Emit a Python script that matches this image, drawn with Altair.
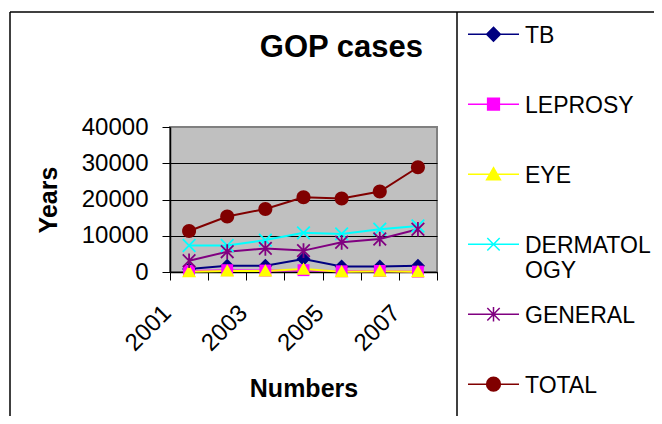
import altair as alt
import pandas as pd

# ---- data ----
years = ["2001", "2002", "2003", "2004", "2005", "2006", "2007"]
series_names = ["TB", "LEPROSY", "EYE", "DERMATOLOGY", "GENERAL", "TOTAL"]
tb = [800, 1700, 1700, 3600, 1500, 1500, 1700]
leprosy = [300, 500, 400, 500, 200, 300, 100]
eye = [100, 300, 300, 800, 100, 200, 100]
dermatology = [7300, 7300, 8800, 10800, 10500, 11800, 12700]
general = [3100, 5600, 6500, 5900, 8200, 9100, 11800]
total = [11300, 15300, 17400, 20600, 20300, 22200, 28900]
y_ticks = [0, 10000, 20000, 30000, 40000]
shown_year_labels = ["2001", "2003", "2005", "2007"]

colors = ["#000080", "#FF00FF", "#FFFF00", "#00FFFF", "#800080", "#800000"]
marker_kinds = ["diamond", "square", "triangle", "x", "star", "circle"]
marker_filled = [True, True, True, False, False, True]

values = [tb, leprosy, eye, dermatology, general, total]
rows = []
for name, col, vals in zip(series_names, colors, values):
    for yr, v in zip(years, vals):
        rows.append({"year": yr, "series": name, "hex": col, "value": v})
df = pd.DataFrame(rows)

FONT = "Liberation Sans"

# ---- marker shapes (unit coordinates) ----
def fmt(v):
    return f"{v:.3f}"

def outline(kind, s=1.0, dy=0.0):
    def p(x, y):
        return f"{fmt(x * s)},{fmt(y * s + dy)}"
    if kind == "diamond":
        return f"M{p(0,-1)}L{p(1,0)}L{p(0,1)}L{p(-1,0)}Z"
    if kind == "square":
        return f"M{p(-0.85,-0.85)}L{p(0.85,-0.85)}L{p(0.85,0.85)}L{p(-0.85,0.85)}Z"
    if kind == "triangle":
        return f"M{p(0,-0.95)}L{p(1,0.8)}L{p(-1,0.8)}Z"
    if kind == "x":
        return f"M{p(-0.9,-0.9)}L{p(0.9,0.9)}M{p(-0.9,0.9)}L{p(0.9,-0.9)}"
    if kind == "star":
        return (f"M{p(-0.9,-0.9)}L{p(0.9,0.9)}M{p(-0.9,0.9)}L{p(0.9,-0.9)}"
                f"M{p(0,-1.05)}L{p(0,1.05)}")
    if kind == "circle":
        r = fmt(s)
        return f"M{p(1,0)}A{r},{r},0,1,1,{p(-1,0)}A{r},{r},0,1,1,{p(1,0)}Z"

def solid(kind, s, dy):
    # stroke-only symbol that looks filled: nested outlines
    if kind in ("x", "star"):
        return outline(kind, s, dy)
    return "".join(outline(kind, s * f, dy) for f in (1.0, 0.84, 0.68, 0.52, 0.36, 0.2, 0.06))

LEG_S = 0.27    # marker half-size relative to legend symbol half width
LEG_DY = -0.05
legend_shapes = [f"M-1,{fmt(LEG_DY)}L1,{fmt(LEG_DY)}" + solid(k, LEG_S, LEG_DY) for k in marker_kinds]

x_enc = alt.X(
    "year:O",
    scale=alt.Scale(type="band", paddingInner=0, paddingOuter=0, domain=years),
    axis=alt.Axis(
        title="Numbers",
        tickBand="extent",
        labelAngle=315,
        labelAlign="right",
        labelBaseline="middle",
        labelPadding=29,
        labelOffset=-22,
        labelOverlap=False,
        labelExpr="indexof(" + str(shown_year_labels) + ", datum.label) >= 0 ? datum.label : ''",
        tickSize=8,
        titlePadding=21,
    ),
)
y_enc = alt.Y(
    "value:Q",
    scale=alt.Scale(domain=[0, 40000], nice=False),
    axis=alt.Axis(
        title="Years",
        values=y_ticks,
        format="d",
        tickSize=8,
        labelPadding=14,
        titlePadding=20,
        gridColor={"condition": {"test": "datum.value >= 40000", "value": "#808080"}, "value": "#000000"},
    ),
)

# series colours taken directly from the colour list (no scale, no legend)
hex_color = alt.Color("hex:N", scale=None)

lines = alt.Chart().mark_line(strokeWidth=2).encode(
    x=x_enc, y=y_enc, color=hex_color, detail="series:N",
)

point_layers = []
for name, kind, filled in zip(series_names, marker_kinds, marker_filled):
    point_layers.append(
        alt.Chart().transform_filter(alt.datum.series == name).mark_point(
            shape=outline(kind), filled=filled, size=196, opacity=1,
            strokeWidth=1 if filled else 1.8,
        ).encode(x=x_enc, y=y_enc, color=hex_color)
    )

leg = dict(
    title=None, orient="none", legendX=297, legendY=-118,
    symbolSize=2601, symbolStrokeWidth=1.5, padding=0,
    labelFont=FONT, labelFontSize=23, labelColor="#000000", labelOffset=5,
    labelLimit=300, rowPadding=6,
    labelExpr="datum.label == 'DERMATOLOGY' ? ['DERMATOL', 'OGY'] : [datum.label, '']",
)
legend_layer = alt.Chart().transform_filter("false").mark_point(
    filled=False, opacity=1, strokeWidth=1.5
).encode(
    x=x_enc, y=y_enc,
    color=alt.Color("series:N", scale=alt.Scale(domain=series_names, range=colors),
                    legend=alt.Legend(**leg)),
    shape=alt.Shape("series:N", scale=alt.Scale(domain=series_names, range=legend_shapes),
                    legend=alt.Legend(**leg)),
)

one = alt.Data(values=[{"k": 1}])
frame_left = alt.Chart(one).mark_rule(color="#000000", strokeWidth=1.5).encode(
    x=alt.value(-160), y=alt.value(-115), y2=alt.value(289))
frame_top = alt.Chart(one).mark_rule(color="#000000", strokeWidth=1.5).encode(
    x=alt.value(-160), x2=alt.value(484), y=alt.value(-115))
frame_legend = alt.Chart(one).mark_rule(color="#000000", strokeWidth=1.5).encode(
    x=alt.value(287), y=alt.value(-115), y2=alt.value(289))

chart = alt.layer(
    frame_left, frame_top, frame_legend,
    lines, *point_layers, legend_layer,
    data=df,
).properties(
    width=267, height=145,
    padding={"left": 162, "top": 119, "right": 217, "bottom": 144},
    autosize=alt.AutoSizeParams(type="none"),
    title=alt.TitleParams("GOP cases", font=FONT, fontSize=31, fontWeight="bold",
                          color="#000000", anchor="end", frame="group", offset=0,
                          baseline="alphabetic", dx=-14, dy=79),
).configure(
    background="#ffffff",
).configure_view(
    fill="#C0C0C0", stroke="#808080", strokeWidth=2,
).configure_axis(
    labelFont=FONT, labelFontSize=24, labelColor="#000000",
    titleFont=FONT, titleFontSize=25, titleFontWeight="bold", titleColor="#000000",
    domainColor="#000000", domainWidth=1.5, tickColor="#000000", tickWidth=1,
    gridWidth=1,
).configure_axisX(grid=False).configure_axisY(grid=True)

chart.save("out.html", embed_options={"renderer": "svg", "actions": False})
